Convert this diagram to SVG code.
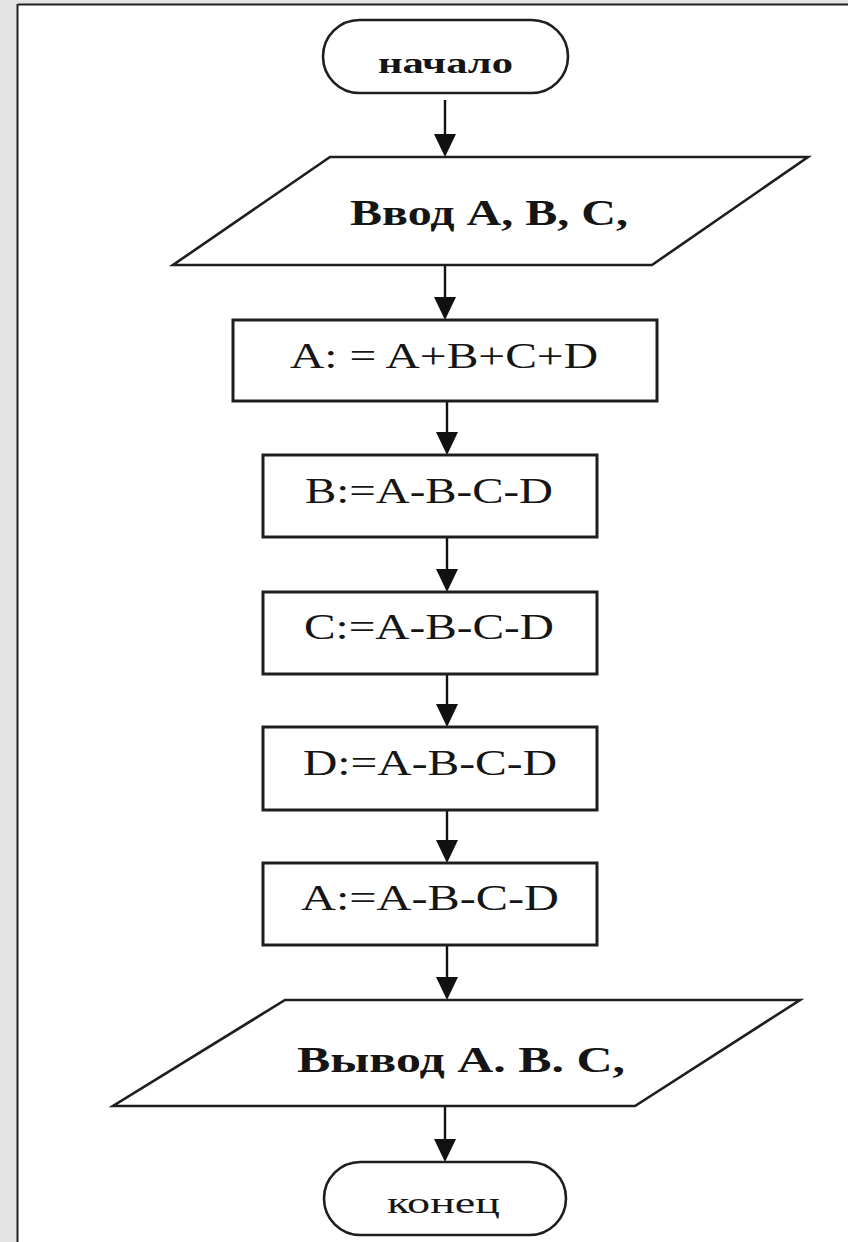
<svg xmlns="http://www.w3.org/2000/svg" width="848" height="1242" viewBox="0 0 848 1242">
<defs>
<style>
.shape{fill:#fff;stroke:#1e1e1e;stroke-width:2.6}
.conn{stroke:#111;stroke-width:2.4;fill:none}
.t{font-family:"Liberation Serif","Times New Roman",serif;fill:#151515;text-anchor:start}
.b{font-weight:bold}
</style>
<marker id="arr" viewBox="0 0 10 10" refX="10" refY="5" markerWidth="10" markerHeight="10" markerUnits="userSpaceOnUse" orient="auto">
<path d="M0,0 L10,5 L0,10 Z" fill="#111"/>
</marker>
</defs>
<rect x="0" y="0" width="848" height="1242" fill="#e3e3e3"/>
<rect x="18" y="5" width="830" height="1237" fill="#fff"/>
<line x1="18" y1="4.5" x2="848" y2="4.5" stroke="#222" stroke-width="2"/>
<line x1="17.5" y1="4" x2="17.5" y2="1242" stroke="#222" stroke-width="2"/>

<g id="connectors">
<path class="conn" d="M445,100 V135"/><path d="M434,134 L456,134 L445,157 Z" fill="#111"/>
<path class="conn" d="M445,265 V298"/><path d="M434,297 L456,297 L445,320 Z" fill="#111"/>
<path class="conn" d="M447,401 V433"/><path d="M436,432 L458,432 L447,455 Z" fill="#111"/>
<path class="conn" d="M447,537 V570"/><path d="M436,569 L458,569 L447,592 Z" fill="#111"/>
<path class="conn" d="M447,674 V705"/><path d="M436,704 L458,704 L447,727 Z" fill="#111"/>
<path class="conn" d="M447,810 V841"/><path d="M436,840 L458,840 L447,863 Z" fill="#111"/>
<path class="conn" d="M447,945 V978"/><path d="M436,977 L458,977 L447,1000 Z" fill="#111"/>
<path class="conn" d="M445,1106 V1140"/><path d="M434,1139 L456,1139 L445,1162 Z" fill="#111"/>
</g>

<g id="start">
<rect class="shape" x="323" y="20" width="245" height="73" rx="36.5" ry="36.5"/>
<text class="t b" x="378" y="73" font-size="30" textLength="135" lengthAdjust="spacingAndGlyphs">начало</text>
</g>

<g id="input">
<polygon class="shape" points="330,157 808,157 652,265 173,265"/>
<text class="t b" x="350" y="225" font-size="35" textLength="278" lengthAdjust="spacingAndGlyphs">Ввод А, В, С,</text>
</g>

<g id="step1">
<rect class="shape" x="233" y="320" width="424" height="81" style="stroke-width:3"/>
<text class="t" x="290" y="368" font-size="35" textLength="308" lengthAdjust="spacingAndGlyphs">A: = A+B+C+D</text>
</g>

<g id="step2">
<rect class="shape" x="263" y="455" width="334" height="82" style="stroke-width:3"/>
<text class="t" x="305" y="503" font-size="35" textLength="248" lengthAdjust="spacingAndGlyphs">B:=A-B-C-D</text>
</g>

<g id="step3">
<rect class="shape" x="263" y="592" width="334" height="82" style="stroke-width:3"/>
<text class="t" x="304" y="639" font-size="35" textLength="250" lengthAdjust="spacingAndGlyphs">C:=A-B-C-D</text>
</g>

<g id="step4">
<rect class="shape" x="263" y="727" width="334" height="83" style="stroke-width:3"/>
<text class="t" x="303" y="775" font-size="35" textLength="254" lengthAdjust="spacingAndGlyphs">D:=A-B-C-D</text>
</g>

<g id="step5">
<rect class="shape" x="263" y="863" width="334" height="82" style="stroke-width:3"/>
<text class="t" x="301" y="910" font-size="35" textLength="258" lengthAdjust="spacingAndGlyphs">A:=A-B-C-D</text>
</g>

<g id="output">
<polygon class="shape" points="285,1000 800,1000 635,1106 113,1106"/>
<text class="t b" x="297" y="1072" font-size="35" textLength="328" lengthAdjust="spacingAndGlyphs">Вывод А. В. С,</text>
</g>

<g id="end">
<rect class="shape" x="324" y="1162" width="242" height="73" rx="36.5" ry="36.5"/>
<text class="t" x="387" y="1213" font-size="30" textLength="113" lengthAdjust="spacingAndGlyphs">конец</text>
</g>
</svg>
